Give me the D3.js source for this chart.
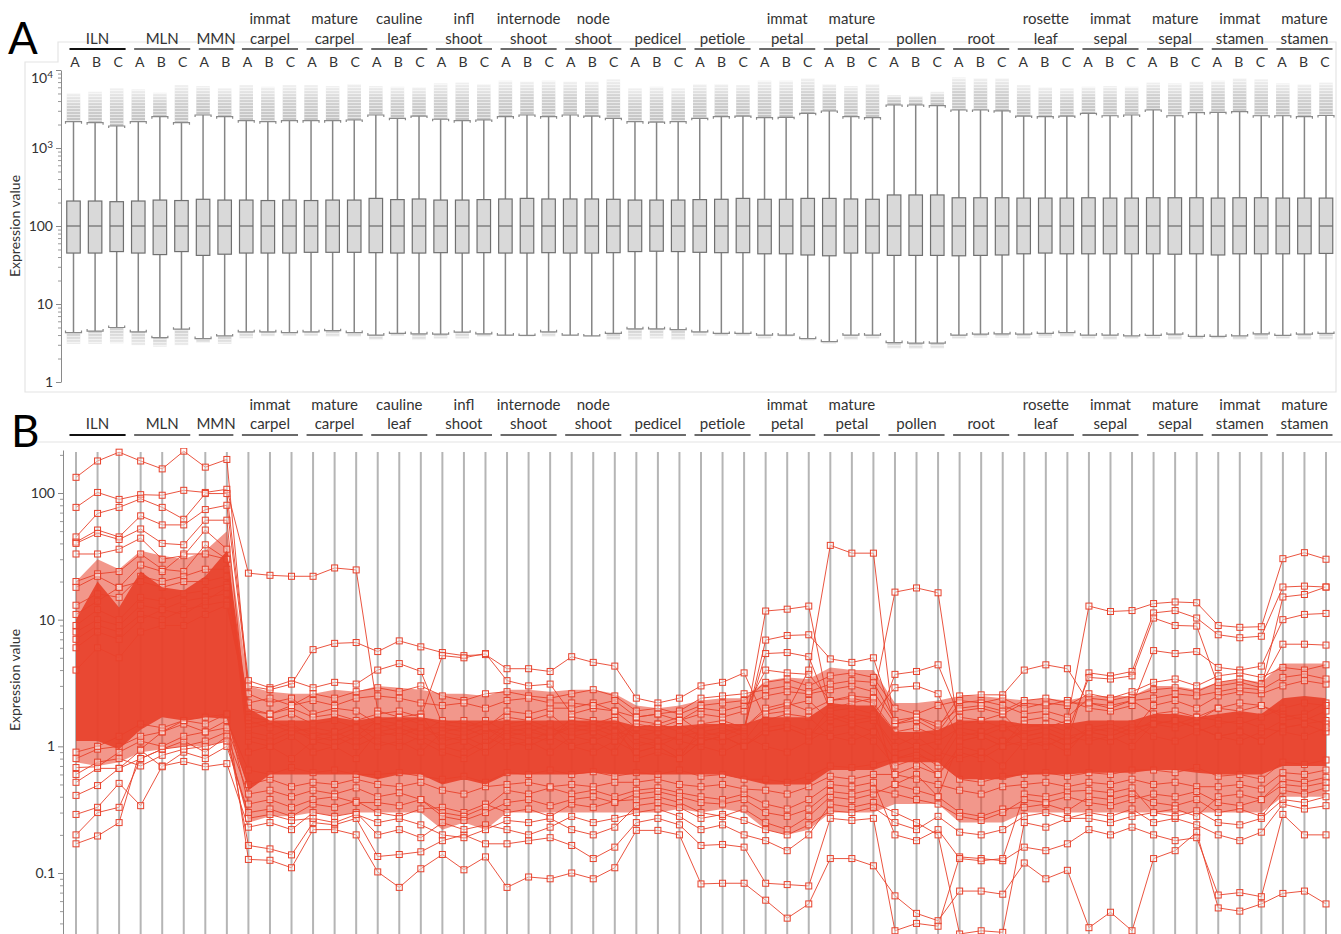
<!DOCTYPE html>
<html>
<head>
<meta charset="utf-8">
<script src="https://cdn.jsdelivr.net/npm/d3@7/dist/d3.min.js"></script>
<style>
html,body{margin:0;padding:0;background:#fff;}
svg text{font-family:Lato,"Open Sans",sans-serif;fill:#333;}
</style>
</head>
<body>
<svg id="chart" width="1341" height="934"></svg>
<script>
// ---------------- data ----------------
const groupNames = [["ILN"],["MLN"],["MMN"],["immat","carpel"],["mature","carpel"],["cauline","leaf"],["infl","shoot"],["internode","shoot"],["node","shoot"],["pedicel"],["petiole"],["immat","petal"],["mature","petal"],["pollen"],["root"],["rosette","leaf"],["immat","sepal"],["mature","sepal"],["immat","stamen"],["mature","stamen"]];
const groupReplicates = [3,3,2,3,3,3,3,3,3,3,3,3,3,3,3,3,3,3,3,3];
const replicateLabels = ["A","B","C"];
const yTicksA = [1,10,100,1000,10000];
const yTicksB = [0.1,1,10,100];

// Panel A: box plot statistics per column
const boxWhiskerHigh = [2175,2110,1915,2175,2520,2110,2650,2520,2240,2175,2240,2240,2240,2285,2650,2400,2570,2335,2240,2285,2520,2650,2520,2650,2570,2400,2175,2150,2175,2400,2520,2570,2445,2470,2785,2980,2520,2445,3560,3560,3490,3070,3070,3000,2570,2520,2570,2785,2590,2650,3070,2590,2840,2870,2930,2590,2590,2520,2610];
const boxQ3 = [209,209,205,209,215,212,220,215,215,212,215,212,215,215,226,218,222,215,215,218,222,226,222,222,222,220,215,215,215,218,220,226,220,220,226,226,222,220,250,250,250,230,230,230,228,228,228,230,228,228,230,230,230,228,230,230,228,228,228];
const boxMedian = [100,100,100,100,100,100,100,100,100,100,100,100,100,100,100,100,100,100,100,100,100,100,100,100,100,100,100,100,100,100,100,100,100,100,100,100,100,100,100,100,100,100,100,100,100,100,100,100,100,100,100,100,100,100,100,100,100,100,100];
const boxQ1 = [45,45,47,45,43,47,42,43.5,45,45,45,46,46,46,45.5,45,45,45.5,45,45.5,45,45,45.5,45,45,45.5,47,47.5,47,46,45.5,45.5,44,44,42.5,41.5,45,45,42,42,42,41.5,42,42.5,44,45,44,44,44,44,44,43.5,44,42.5,44,44,44,44,44.5];
const boxWhiskerLow = [4.3,4.5,5.0,4.4,3.7,4.75,3.6,3.9,4.4,4.4,4.3,4.4,4.55,4.3,4.0,4.2,4.15,4.1,4.35,4.15,4.0,3.95,4.4,4.0,3.9,4.2,4.8,4.8,4.7,4.4,4.2,4.2,4.0,4.0,3.6,3.3,4.0,4.0,3.2,3.15,3.15,4.0,4.1,4.15,4.1,4.2,4.3,4.0,4.0,3.9,3.95,4.1,3.85,3.85,3.9,4.15,3.95,4.1,4.2];
const outlierHigh = [5025,5270,5825,5660,5120,6425,6235,5825,6425,6105,6425,6425,6235,6610,6235,6105,5970,6750,6900,6610,7300,7070,7300,7070,7070,7600,5825,6105,5825,6610,6610,6425,7300,7300,7840,6610,6235,6610,4780,4650,5270,8050,7840,7840,6425,5970,5825,6105,6235,6105,6900,6750,7070,7300,7840,7600,6750,6500,6900];
const outlierLow = [3.07,3.07,3.13,2.97,2.83,2.97,3.18,3.07,3.63,3.87,3.9,3.9,3.8,3.8,3.45,3.9,3.45,3.6,3.6,3.8,3.9,3.8,3.8,3.9,3.8,3.45,3.45,3.6,3.45,3.9,3.9,3.9,3.6,3.8,3.4,3.1,3.45,3.6,2.7,2.65,2.7,3.6,3.7,3.7,3.6,3.7,3.8,3.6,3.5,3.6,3.6,3.5,3.55,3.6,3.5,3.5,3.6,3.5,3.5];

// Panel B: dense core and spread of the gene mass per column
const coreLow = [1.1,1.1,0.95,1.35,1.7,1.6,1.7,1.65, 0.45,0.6,0.6, 0.6,0.6,0.6, 0.55,0.6,0.6, 0.5,0.55,0.5, 0.6,0.6,0.6, 0.6,0.62,0.6, 0.6,0.6,0.6, 0.6,0.6,0.55, 0.5,0.5,0.5, 0.65,0.65,0.65, 0.75,0.75,0.75, 0.55,0.55,0.55, 0.6,0.6,0.6, 0.62,0.62,0.62, 0.65,0.65,0.62, 0.6,0.6,0.6, 0.7,0.7,0.7];
const coreHigh = [10,20,12.5,24,18,17,22,35, 2.0,1.6,1.6, 1.6,1.7,1.6, 1.7,1.7,1.7, 1.6,1.6,1.6, 1.6,1.6,1.6, 1.6,1.6,1.6, 1.45,1.45,1.45, 1.5,1.5,1.5, 1.7,1.7,1.7, 2.2,2.1,2.1, 1.3,1.3,1.35, 1.6,1.6,1.6, 1.5,1.5,1.5, 1.6,1.6,1.6, 1.8,1.8,1.7, 1.8,1.9,1.8, 2.4,2.5,2.4];
const spreadLow = [0.75,0.7,0.75,0.9,0.95,1.0,1.0,1.1, 0.25,0.28,0.28, 0.3,0.28,0.3, 0.3,0.3,0.3, 0.22,0.25,0.22, 0.3,0.3,0.3, 0.3,0.3,0.3, 0.3,0.3,0.32, 0.3,0.32,0.3, 0.22,0.2,0.22, 0.3,0.3,0.3, 0.35,0.35,0.35, 0.25,0.25,0.25, 0.3,0.3,0.3, 0.3,0.3,0.3, 0.3,0.3,0.3, 0.3,0.3,0.3, 0.4,0.4,0.4];
const spreadHigh = [20,30,25,35,32,30,35,50, 3.0,2.7,2.6, 2.6,2.8,2.7, 3.0,2.9,2.8, 2.6,2.6,2.5, 2.8,2.8,2.7, 2.8,2.8,2.6, 2.1,2.0,2.1, 2.3,2.4,2.4, 3.3,3.5,3.4, 4.2,4.0,4.0, 2.2,2.2,2.3, 2.5,2.5,2.4, 2.3,2.4,2.3, 2.5,2.5,2.5, 3.0,3.0,2.8, 3.2,3.4,3.2, 4.5,4.5,4.5];

// Panel B: individual gene profiles (one value per column)
const geneProfiles = [
 [133,179,210,179,155,214,160,184, 2.6,2.2,2.4, 1.8,2.0,1.9, 1.5,1.3,1.4, 1.2,1.1,1.3, 1.4,1.5,1.3, 1.6,1.5,1.7, 1.1,1.0,1.2, 1.3,1.2,1.4, 1.9,2.1,2.3, 1.6,1.8,1.7, 0.9,1.0,0.8, 1.5,1.6,1.4, 1.2,1.3,1.1, 1.4,1.5,1.3, 1.6,1.5,1.7, 2.0,2.2,2.1, 1.8,1.6,1.9],
 [77,101,89,97,96,105,101,107, 23.3,22.4,22, 22,25.6,24.7, 1.9,1.7,1.8, 1.0,1.1,0.9, 1.2,1.3,1.2, 1.4,1.3,1.5, 0.8,0.9,0.8, 1.1,1.2,1.0, 1.3,1.4,1.2, 1.7,1.5,1.6, 0.6,0.7,0.6, 0.9,0.8,1.0, 1.1,1.2,1.0, 1.3,1.2,1.4, 1.5,1.6,1.4, 1.2,1.3,1.1, 1.4,1.5,1.6],
 [45,69,77,90,77,62,99,99, 3.3,2.9,3.3, 2.9,3.2,3.1, 4.0,4.5,3.9, 1.5,1.4,1.6, 1.3,1.2,1.1, 1.7,1.6,1.5, 1.0,1.1,0.9, 1.2,1.3,1.4, 2.0,2.2,1.9, 2.3,2.5,2.4, 0.5,0.6,0.4, 1.1,1.2,1.0, 1.6,1.7,1.5, 1.2,1.1,1.3, 2.1,2.3,2.0, 2.5,2.7,2.6, 3.0,3.3,3.1],
 [41,51,45,66,56,56,74,80, 3.0,2.8,3.1, 5.8,6.5,6.6, 5.6,6.8,6.1, 5.5,5.2,5.3, 4.1,4.1,3.9, 5.1,4.6,4.3, 2.4,2.2,2.4, 3.0,3.2,3.8, 1.6,1.8,1.7, 1.2,1.3,1.1, 0.7,0.8,0.6, 1.0,0.9,1.1, 1.3,1.4,1.2, 1.1,1.2,1.0, 1.5,1.4,1.6, 2.0,1.9,2.1, 1.7,1.8,2.2],
 [40,48,43,52,40,39,61,61, 1.3,1.2,1.4, 1.1,1.0,1.2, 1.6,1.5,1.7, 5.2,5.0,5.4, 3.3,3.0,3.1, 1.8,2.0,1.9, 1.4,1.3,1.5, 1.2,1.1,1.3, 11.7,12.1,12.8, 1.8,1.6,1.7, 1.0,1.2,0.9, 0.8,0.9,0.7, 1.1,1.0,1.2, 1.3,1.2,1.4, 1.5,1.6,1.4, 1.2,1.3,1.1, 1.4,1.5,1.3],
 [33,33,36,44,30,32,51,36, 1.1,1.0,1.2, 0.9,1.0,0.8, 1.3,1.4,1.2, 1.0,0.9,1.1, 1.5,1.6,1.4, 1.2,1.1,1.3, 0.9,1.0,0.8, 1.4,1.5,1.3, 6.9,7.5,7.6, 4.9,4.6,5.0, 1.5,1.7,1.4, 2.5,2.55,2.55, 4.0,4.4,4.1, 2.2,2.0,2.3, 1.8,1.9,1.7, 1.6,1.5,1.7, 2.0,2.2,2.1],
 [20,23,24,33,25,24,39,30, 1.4,1.5,1.3, 1.2,1.1,1.3, 1.0,1.1,0.9, 1.3,1.2,1.4, 1.1,1.0,1.2, 1.5,1.4,1.6, 1.2,1.3,1.1, 1.0,0.9,1.1, 1.8,1.9,4.0, 38.6,33.5,33.5, 1.2,1.0,1.1, 1.4,1.3,1.5, 1.1,1.2,1.0, 1.3,1.4,1.2, 1.5,1.6,1.4, 1.2,1.1,1.3, 1.6,1.7,1.5],
 [18,22,18,27,24,33,33,30, 0.9,1.0,0.8, 1.1,1.2,1.0, 1.2,1.3,1.1, 0.9,0.8,1.0, 1.3,1.4,1.2, 1.0,0.9,1.1, 1.4,1.5,1.3, 1.1,1.2,1.0, 1.3,1.4,1.2, 2.0,2.2,2.4, 16.5,17.8,16.3, 1.2,1.3,1.1, 1.0,1.1,0.9, 1.4,1.3,1.5, 1.2,1.1,1.3, 1.5,1.6,1.4, 1.3,1.2,1.4],
 [13,16,15,22,20,22,25,25, 1.2,1.1,1.3, 1.4,1.3,1.5, 1.1,1.0,1.2, 1.3,1.4,1.2, 1.0,1.1,0.9, 1.2,1.3,1.1, 0.9,1.0,0.8, 1.1,1.2,1.0, 1.4,1.5,1.3, 1.2,1.1,1.3, 0.8,0.9,0.7, 1.3,1.2,1.4, 1.5,1.4,1.6, 12.8,11.6,11.8, 13.4,13.8,13.6, 9.0,8.7,8.8, 30.3,33.8,30],
 [11,14,18,20,18,20,20,22, 1.5,1.6,1.4, 1.3,1.2,1.4, 1.6,1.7,1.5, 1.1,1.2,1.0, 1.4,1.3,1.5, 1.0,1.1,0.9, 1.6,1.5,1.7, 1.3,1.4,1.2, 1.0,0.9,1.1, 1.4,1.5,1.3, 3.7,3.9,4.4, 1.7,1.6,1.8, 1.2,1.3,1.1, 3.8,3.6,3.9, 11.3,11.8,10.3, 7.6,7.2,7.4, 18.1,18.4,18.1],
 [9,12,10,15,14,16,17,19, 1.6,1.4,1.5, 1.2,1.3,1.1, 1.4,1.5,1.3, 1.6,1.5,1.4, 1.2,1.1,1.3, 1.4,1.5,1.3, 1.2,1.1,1.2, 1.5,1.6,1.4, 5.4,5.5,5.1, 1.9,2.0,1.8, 2.9,3.0,2.6, 1.1,1.2,1.0, 1.4,1.5,1.3, 3.5,3.4,3.6, 10.3,9.0,8.9, 3.0,3.2,2.9, 15.1,15.8,18.1],
 [8,10,9,13,12,14,15,16, 1.7,1.6,1.8, 1.5,1.6,1.4, 1.3,1.2,1.4, 1.4,1.3,1.5, 1.7,1.6,1.8, 1.3,1.4,1.2, 1.5,1.4,1.6, 1.8,1.7,1.9, 4.0,3.8,3.7, 2.3,2.4,2.2, 1.3,1.4,1.2, 1.9,2.0,1.8, 2.2,2.1,2.3, 2.0,1.9,2.1, 5.7,5.4,5.6, 4.2,4.0,4.3, 10.0,11.0,11.2],
 [7,9,8,11,10,12,13,14, 1.9,1.8,2.0, 1.7,1.8,1.6, 1.8,1.9,1.7, 1.5,1.6,1.4, 1.9,1.8,2.0, 2.0,2.2,1.9, 1.7,1.8,1.6, 2.0,1.9,2.1, 2.5,2.7,2.6, 2.8,3.0,2.7, 1.5,1.6,1.3, 2.2,2.3,2.1, 1.8,1.9,1.7, 2.4,2.3,2.5, 2.8,2.9,2.7, 3.2,3.4,3.1, 6.4,6.4,6.3],
 [6,8,7,10,12,11,14,18, 2.2,2.4,2.1, 2.6,2.4,2.7, 2.9,2.7,3.0, 2.5,2.3,2.6, 2.7,2.5,2.4, 2.6,2.8,2.5, 1.9,2.0,1.8, 2.1,2.2,2.3, 3.2,3.4,3.0, 3.6,3.8,3.5, 2.0,1.8,2.1, 2.3,2.2,2.4, 2.0,2.2,2.1, 2.6,2.4,2.7, 3.2,3.4,3.0, 3.6,3.8,3.5, 4.2,4.0,4.4],
 [4,6,5,8,9,9,11,13, 2.0,1.8,2.1, 2.3,2.1,2.4, 2.5,2.4,2.2, 2.1,2.2,2.0, 2.3,2.4,2.2, 2.2,2.1,2.3, 1.7,1.8,1.9, 2.4,2.5,2.6, 2.8,3.0,2.7, 3.1,3.3,3.2, 1.6,1.7,1.5, 2.0,2.1,1.9, 2.3,2.4,2.2, 2.2,2.1,2.3, 2.4,2.6,2.5, 2.7,2.9,2.8, 3.5,3.7,3.4],
 [0.17,0.196,0.25,0.95,1.3,1.6,1.5,1.8, 0.128,0.126,0.11, 0.22,0.22,0.2, 0.102,0.077,0.108, 0.14,0.106,0.134, 0.077,0.093,0.09, 0.10,0.09,0.11, 0.217,0.217,0.2, 0.082,0.083,0.083, 0.061,0.044,0.057, 0.13,0.13,0.114, 0.066,0.048,0.042, 0.072,0.072,0.068, 0.12,0.09,0.105, 0.037,0.049,0.035, 0.13,0.15,0.21, 0.053,0.05,0.057, 0.069,0.072,0.057],
 [0.2,0.3,0.33,0.8,0.95,1.0,1.1,1.3, 0.165,0.155,0.139, 0.25,0.24,0.27, 0.135,0.14,0.147, 0.18,0.2,0.17, 0.17,0.18,0.19, 0.165,0.13,0.16, 0.25,0.27,0.24, 0.165,0.168,0.16, 0.083,0.081,0.079, 0.27,0.26,0.27, 0.035,0.04,0.038, 0.134,0.13,0.125, 0.16,0.15,0.17, 0.22,0.2,0.23, 0.2,0.18,0.19, 0.067,0.07,0.065, 0.29,0.2,0.2],
 [0.29,0.33,0.51,0.34,0.7,0.76,0.69,0.73, 0.23,0.25,0.22, 0.3,0.28,0.3, 0.2,0.22,0.19, 0.25,0.22,0.24, 0.22,0.2,0.23, 0.28,0.25,0.27, 0.3,0.32,0.28, 0.22,0.24,0.2, 0.18,0.15,0.2, 0.35,0.33,0.36, 0.3,0.25,0.2, 0.033,0.035,0.034, 0.25,0.23,0.27, 0.3,0.28,0.32, 0.25,0.27,0.24, 0.2,0.18,0.21, 0.35,0.32,0.34],
 [0.41,0.49,0.67,0.93,0.69,0.9,0.8,1.0, 0.3,0.32,0.28, 0.35,0.33,0.37, 0.3,0.28,0.32, 0.33,0.3,0.35, 0.3,0.32,0.28, 0.35,0.33,0.37, 0.38,0.4,0.36, 0.3,0.28,0.32, 0.25,0.22,0.28, 0.4,0.38,0.42, 0.5,0.45,0.4, 0.3,0.28,0.32, 0.33,0.35,0.31, 0.4,0.38,0.42, 0.36,0.34,0.38, 0.3,0.32,0.28, 0.45,0.42,0.47],
 [0.52,0.67,0.67,0.8,0.95,1.1,0.9,1.2, 0.42,0.45,0.4, 0.45,0.42,0.47, 0.4,0.43,0.38, 0.3,0.28,0.33, 0.45,0.42,0.47, 0.42,0.45,0.4, 0.45,0.47,0.43, 0.4,0.38,0.42, 0.35,0.32,0.38, 0.5,0.48,0.52, 0.2,0.18,0.22, 0.13,0.125,0.13, 0.42,0.4,0.44, 0.45,0.43,0.47, 0.3,0.32,0.28, 0.4,0.42,0.38, 0.55,0.52,0.57],
 [0.68,0.69,0.9,1.1,1.0,1.2,1.3,1.4, 0.5,0.55,0.48, 0.52,0.5,0.55, 0.5,0.48,0.52, 0.45,0.42,0.48, 0.5,0.52,0.48, 0.5,0.48,0.52, 0.52,0.55,0.5, 0.48,0.5,0.46, 0.45,0.42,0.48, 0.58,0.55,0.6, 0.6,0.55,0.5, 0.45,0.42,0.48, 0.5,0.52,0.48, 0.52,0.5,0.55, 0.5,0.52,0.48, 0.48,0.5,0.46, 0.62,0.6,0.65],
 [0.8,0.95,1.0,1.2,1.3,1.5,1.3,1.6, 0.65,0.6,0.68, 0.62,0.65,0.6, 0.6,0.62,0.58, 0.55,0.58,0.52, 0.62,0.6,0.65, 0.6,0.63,0.58, 0.62,0.6,0.65, 0.58,0.6,0.55, 0.55,0.52,0.58, 0.7,0.68,0.72, 0.8,0.85,0.75, 0.55,0.52,0.58, 0.6,0.62,0.58, 0.62,0.6,0.65, 0.65,0.62,0.68, 0.58,0.6,0.55, 0.75,0.72,0.78],
 [0.9,1.0,1.2,1.5,1.4,1.6,1.7,1.8, 0.35,0.38,0.33, 0.38,0.4,0.36, 0.36,0.34,0.38, 0.28,0.26,0.3, 0.36,0.38,0.34, 0.38,0.4,0.36, 0.42,0.44,0.4, 0.36,0.35,0.38, 0.3,0.28,0.32, 0.44,0.42,0.46, 0.42,0.38,0.35, 0.28,0.26,0.3, 0.38,0.36,0.4, 0.36,0.34,0.38, 0.42,0.4,0.44, 0.36,0.34,0.38, 0.5,0.48,0.52],
 [0.6,0.75,0.8,0.7,0.85,0.95,1.0,1.1, 0.27,0.29,0.26, 0.27,0.25,0.29, 0.25,0.27,0.24, 0.2,0.19,0.22, 0.26,0.25,0.27, 0.22,0.2,0.23, 0.34,0.36,0.33, 0.27,0.29,0.26, 0.22,0.2,0.24, 0.31,0.3,0.33, 0.25,0.22,0.28, 0.21,0.2,0.22, 0.28,0.3,0.27, 0.27,0.25,0.28, 0.3,0.28,0.31, 0.25,0.24,0.27, 0.38,0.36,0.4]
];

// ---------------- layout ----------------
const svg = d3.select("#chart");
const columns = [];
groupReplicates.forEach((n, g) => { for (let r = 0; r < n; r++) columns.push({group: g, rep: replicateLabels[r]}); });
const nCols = columns.length;
[boxWhiskerHigh, boxQ3, boxMedian, boxQ1, boxWhiskerLow, outlierHigh, outlierLow, coreLow, coreHigh, spreadLow, spreadHigh].forEach((a, k) => { if (a.length !== nCols) throw new Error("array " + k + " has " + a.length); });
geneProfiles.forEach((g, k) => { if (g.length !== nCols) throw new Error("gene " + k + " has " + g.length); });

const colIdx = d3.range(nCols);
const xA = d3.scalePoint().domain(colIdx).range([73.5, 1326]);
const xB = d3.scalePoint().domain(colIdx).range([76, 1326]);
const yA = d3.scaleLog().domain([1, 1e4]).range([382, 70]);
const yBbase = d3.scaleLog().domain([0.1, 100]).range([873, 493]);
const yB = d3.scaleLog().domain([yBbase.invert(934), yBbase.invert(450)]).range([934, 450]);
const RED = "#e8412b";

const defs = svg.append("defs");
const gHi = defs.append("linearGradient").attr("id", "gradHi").attr("x1", 0).attr("y1", 1).attr("x2", 0).attr("y2", 0);
gHi.append("stop").attr("offset", "0%").attr("stop-color", "#c3c3c3");
gHi.append("stop").attr("offset", "55%").attr("stop-color", "#d2d2d2");
gHi.append("stop").attr("offset", "100%").attr("stop-color", "#f1f1f1");
const gLo = defs.append("linearGradient").attr("id", "gradLo").attr("x1", 0).attr("y1", 0).attr("x2", 0).attr("y2", 1);
gLo.append("stop").attr("offset", "0%").attr("stop-color", "#cfcfcf");
gLo.append("stop").attr("offset", "100%").attr("stop-color", "#ececec");
const pat = defs.append("pattern").attr("id", "stripes").attr("patternUnits", "userSpaceOnUse").attr("width", 20).attr("height", 3);
pat.append("rect").attr("x", 0).attr("y", 0).attr("width", 20).attr("height", 1).attr("fill", "#fff").attr("opacity", 0.55);
defs.append("clipPath").attr("id", "clipB").append("rect").attr("x", 64).attr("y", 448).attr("width", 1277).attr("height", 486);

// frames
svg.append("path").attr("d", "M25,392V62H58V42H1336V392Z").attr("fill", "none").attr("stroke", "#e4e4e4").attr("stroke-width", 1.2);
svg.append("line").attr("x1", 33).attr("x2", 1341).attr("y1", 442).attr("y2", 442).attr("stroke", "#e4e4e4").attr("stroke-width", 1.2);

// panel letters
svg.append("text").attr("x", 8).attr("y", 54).attr("font-size", 44).style("fill", "#000").text("A");
svg.append("text").attr("x", 11).attr("y", 447).attr("font-size", 44).style("fill", "#000").text("B");

// group headers
function header(lineY, b1, b2, withReps, repY) {
  const gh = svg.append("g");
  groupNames.forEach((name, g) => {
    const cols = colIdx.filter(i => columns[i].group === g);
    const x0 = xB(cols[0]) - 6.5, x1 = xB(cols[cols.length - 1]) + 6.5, cx = (x0 + x1) / 2;
    gh.append("line").attr("x1", x0).attr("x2", x1).attr("y1", lineY).attr("y2", lineY)
      .attr("stroke", g === 0 ? "#111" : "#6b6b6b").attr("stroke-width", 2);
    const lines = name.length === 2 ? [[name[0], b1], [name[1], b2]] : [[name[0], b2]];
    lines.forEach(([t, y]) => gh.append("text").attr("x", cx).attr("y", y).attr("text-anchor", "middle").attr("font-size", 15).text(t));
    if (withReps) cols.forEach(i => gh.append("text").attr("x", xB(i) - 1).attr("y", repY).attr("text-anchor", "middle").attr("font-size", 14).text(columns[i].rep));
  });
}
header(49, 24, 43.5, true, 66.5);
header(435, 410, 429, false, 0);

// ---------------- Panel A ----------------
function styleAxis(g) {
  g.attr("color", "#8a8a8a");
  g.selectAll(".tick text").style("fill", "#333").attr("font-size", 14);
}
const minorA = [];
[1, 10, 100, 1000].forEach(d => { for (let k = 2; k <= 9; k++) minorA.push(d * k); });
svg.append("g").attr("transform", "translate(61,0)").call(d3.axisLeft(yA).tickValues(minorA).tickSize(3).tickFormat("")).call(g => g.select(".domain").remove()).attr("color", "#9a9a9a");
const axA = svg.append("g").attr("transform", "translate(61,0)")
  .call(d3.axisLeft(yA).tickValues(yTicksA).tickSize(5).tickSizeOuter(0).tickFormat(d => d >= 1000 ? "" : d3.format("d")(d)))
  .call(styleAxis);
axA.selectAll(".tick text").each(function(d) {
  if (d >= 1000) {
    const t = d3.select(this);
    t.text("10");
    t.append("tspan").attr("dy", "-0.5em").attr("font-size", 10).text(Math.round(Math.log10(d)));
    if (d === 10000) t.attr("transform", "translate(0,8)");
  }
});
svg.append("text").attr("transform", "translate(20,226) rotate(-90)").attr("text-anchor", "middle").attr("font-size", 14).text("Expression value");

const boxW = 13.5;
const gBox = svg.append("g");
colIdx.forEach(i => {
  const x = xA(i);
  gBox.append("rect").attr("x", x - boxW / 2).attr("width", boxW)
    .attr("y", yA(outlierHigh[i])).attr("height", yA(boxWhiskerHigh[i]) - yA(outlierHigh[i])).attr("fill", "url(#gradHi)");
  gBox.append("rect").attr("x", x - boxW / 2).attr("width", boxW)
    .attr("y", yA(outlierHigh[i])).attr("height", yA(boxWhiskerHigh[i]) - yA(outlierHigh[i])).attr("fill", "url(#stripes)");
  if (outlierLow[i] < boxWhiskerLow[i]) {
    gBox.append("rect").attr("x", x - boxW / 2).attr("width", boxW)
      .attr("y", yA(boxWhiskerLow[i])).attr("height", yA(outlierLow[i]) - yA(boxWhiskerLow[i])).attr("fill", "url(#gradLo)");
    gBox.append("rect").attr("x", x - boxW / 2).attr("width", boxW)
      .attr("y", yA(boxWhiskerLow[i])).attr("height", yA(outlierLow[i]) - yA(boxWhiskerLow[i])).attr("fill", "url(#stripes)");
  }
  gBox.append("line").attr("x1", x).attr("x2", x).attr("y1", yA(boxWhiskerLow[i])).attr("y2", yA(boxWhiskerHigh[i])).attr("stroke", "#858585").attr("stroke-width", 1.5);
  const yt = yA(boxWhiskerHigh[i]), yb = yA(boxWhiskerLow[i]);
  gBox.append("path").attr("d", `M${x - 8},${yt + 2}V${yt}H${x + 8}V${yt + 2}`).attr("fill", "none").attr("stroke", "#8a8a8a").attr("stroke-width", 1.2);
  gBox.append("path").attr("d", `M${x - 8},${yb - 2}V${yb}H${x + 8}V${yb - 2}`).attr("fill", "none").attr("stroke", "#8a8a8a").attr("stroke-width", 1.2);
  gBox.append("rect").attr("x", x - boxW / 2).attr("width", boxW).attr("y", yA(boxQ3[i])).attr("height", yA(boxQ1[i]) - yA(boxQ3[i]))
    .attr("fill", "#d9d9d9").attr("stroke", "#707070").attr("stroke-width", 1.2);
  gBox.append("line").attr("x1", x - boxW / 2).attr("x2", x + boxW / 2).attr("y1", yA(boxMedian[i])).attr("y2", yA(boxMedian[i])).attr("stroke", "#6a6a6a").attr("stroke-width", 1.2);
});

// ---------------- Panel B ----------------
const gGrid = svg.append("g");
colIdx.forEach(i => gGrid.append("line").attr("x1", xB(i)).attr("x2", xB(i)).attr("y1", 452).attr("y2", 934).attr("stroke", "#b5b5b5").attr("stroke-width", 2));

const minorB = [];
[0.01, 0.1, 1, 10, 100].forEach(d => { for (let k = 2; k <= 9; k++) { const v = d * k; if (v >= yB.domain()[0] && v <= yB.domain()[1]) minorB.push(v); } });
svg.append("g").attr("transform", "translate(63,0)").call(d3.axisLeft(yB).tickValues(minorB).tickSize(3).tickFormat("")).call(g => g.select(".domain").remove()).attr("color", "#9a9a9a");
svg.append("g").attr("transform", "translate(63,0)")
  .call(d3.axisLeft(yB).tickValues(yTicksB).tickSize(5).tickSizeOuter(0).tickFormat(d => d < 1 ? String(d) : d3.format("d")(d)))
  .call(styleAxis);
svg.append("text").attr("transform", "translate(20,680) rotate(-90)").attr("text-anchor", "middle").attr("font-size", 14).text("Expression value");

const plotB = svg.append("g").attr("clip-path", "url(#clipB)");
const area = (lo, hi) => d3.area().x((d, i) => xB(i)).y0((d, i) => yB(lo[i])).y1((d, i) => yB(hi[i]));
plotB.append("path").datum(colIdx).attr("d", area(spreadLow, spreadHigh)).attr("fill", RED).attr("opacity", 0.55);
const lineGen = d3.line().x((d, i) => xB(i)).y(d => yB(d));
geneProfiles.forEach(g => {
  plotB.append("path").datum(g).attr("d", lineGen).attr("fill", "none").attr("stroke", RED).attr("stroke-width", 1).attr("opacity", 0.9);
});
geneProfiles.forEach(g => {
  plotB.append("g").selectAll("rect").data(g).join("rect")
    .attr("x", (d, i) => xB(i) - 3).attr("y", d => yB(d) - 3).attr("width", 6).attr("height", 6)
    .attr("fill", "#fff").attr("fill-opacity", 0.4).attr("stroke", RED).attr("stroke-width", 1);
});
plotB.append("path").datum(colIdx).attr("d", area(coreLow, coreHigh)).attr("fill", RED).attr("opacity", 0.92);
</script>
</body>
</html>
